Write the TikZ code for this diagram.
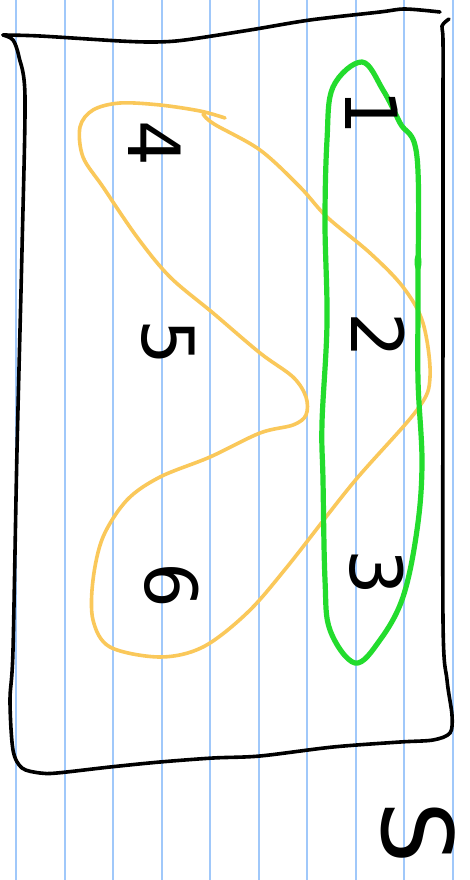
\documentclass[tikz,border=0pt]{standalone}
\usepackage{fontspec}
\newfontfamily\handfont{DejaVu Sans}
\definecolor{ruleblue}{RGB}{160,200,250}
\definecolor{setyellow}{RGB}{250,200,90}
\definecolor{setgreen}{RGB}{35,220,45}
\tikzset{
  ruling/.style={draw=ruleblue, line width=2pt},
  frame/.style={draw=black, line width=3.6pt, line cap=round, line join=round},
  yellowset/.style={draw=setyellow, line width=3.6pt, line cap=round, line join=round},
  greenset/.style={draw=setgreen, line width=5.2pt, line cap=round, line join=round},
  digit/.style={font=\handfont\fontsize{72}{72}\selectfont, rotate=-90, inner sep=0pt, text=black}
}
\begin{document}
\begin{tikzpicture}[x=1pt,y=-1pt]
\useasboundingbox (0,0) rectangle (470,880);
\fill[white] (0,0) rectangle (470,880);
% ruled paper
\foreach \xx in {16,64.5,113,161.5,210,258.5,307,355.5,404,452.5}
  \draw[ruling] (\xx,0) -- (\xx,880);
% universe frame
\draw[frame] plot[smooth, tension=0.5] coordinates {(3,35) (40,36) (120,41) (155,42) (185,40) (250,30) (310,20) (380,12) (405,9) (440,12)};
\draw[frame] plot[smooth, tension=0.5] coordinates {(3,35) (13,40) (19,57) (25,97) (22,250) (17,450) (13,650) (10,700) (13,750) (22,768) (40,773) (57,773) (110,767) (160,762) (213,758) (260,756) (333,747) (400,742) (433,740) (450,733) (452,715) (447,680) (443,620) (443,300) (443,120) (443,40) (442,26) (449,19)};
% yellow set
\draw[yellowset] plot[smooth, tension=0.55] coordinates {(225,118) (200,111) (160,105) (120,103) (93,110) (80,127) (83,157) (103,187) (137,237) (170,277) (213,313) (260,353) (293,377) (306,397) (306,415) (293,425) (260,433) (210,457) (160,477) (127,500) (103,537) (93,580) (93,620) (110,647) (160,657) (203,647) (247,613) (287,567) (353,483) (417,410) (430,377) (423,323) (403,287) (370,253) (327,217) (300,187) (260,150) (214,124) (203,114)};
% green set
\draw[greenset] plot[smooth cycle, tension=0.6] coordinates {(362,62) (333,87) (327,140) (325,223) (327,323) (322,423) (323,480) (325,580) (330,630) (355,663) (380,640) (403,597) (417,530) (422,463) (418,380) (418,290) (417,157) (400,123) (383,90)};
\fill[setgreen] (418,262) ellipse (3.5pt and 9pt);
% elements
\node[digit] (n1) at (372,112) {1};
\node[digit] (n2) at (378,335) {2};
\node[digit] (n3) at (377,572) {3};
\node[digit] (n4) at (155,143) {4};
\node[digit] (n5) at (168,342) {5};
\node[digit] (n6) at (172,585) {6};
\node[digit, font=\handfont\fontsize{98}{98}\selectfont] (s) at (418,833) {S};
\end{tikzpicture}
\end{document}
